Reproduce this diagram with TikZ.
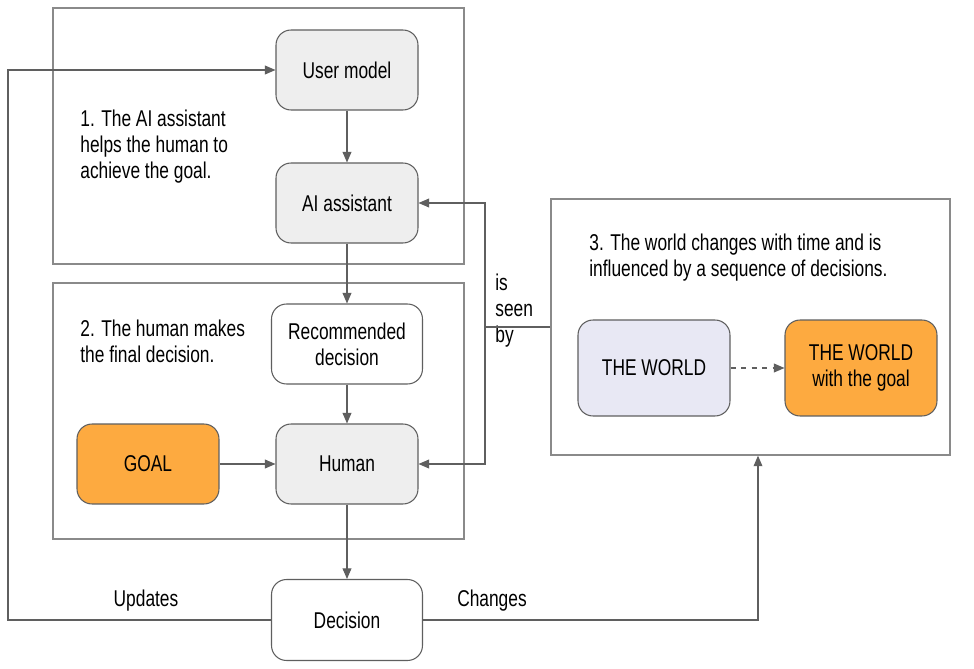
\documentclass[tikz,border=0pt]{standalone}
\usepackage{fontspec}
\setmainfont[FakeStretch=0.76]{Liberation Sans}
\usetikzlibrary{arrows.meta,shadows,calc}

\definecolor{linegray}{HTML}{5F5F5F}
\definecolor{framegray}{HTML}{8A8A8A}
\definecolor{boxgray}{HTML}{EEEEEE}
\definecolor{worldblue}{HTML}{E8E8F4}
\definecolor{goalorange}{HTML}{FDAA40}

\tikzset{
  frame/.style={draw=framegray, line width=0.8pt, fill=white,
    drop shadow={opacity=0.18, shadow xshift=0.6pt, shadow yshift=-0.6pt}},
  block/.style={draw=linegray, rounded corners=0.3cm, align=center,
    minimum width=2.84cm, minimum height=1.6cm, line width=0.6pt},
  link/.style={draw=linegray, line width=0.6pt,
    -{Triangle[length=6pt,width=5pt]}},
  note/.style={align=left, inner sep=0pt}
}

\begin{document}
\begin{tikzpicture}[x=0.02cm, y=-0.02cm, font=\fontsize{13}{14.8}\selectfont]
\useasboundingbox (0,0) rectangle (974,669);

\node (frameA) [frame, minimum width=8.22cm, minimum height=5.12cm] at (258.5,136) {};
\node (frameB) [frame, minimum width=8.22cm, minimum height=5.12cm] at (258.5,411) {};
\node (frameC) [frame, minimum width=7.98cm, minimum height=5.12cm] at (750.5,327) {};

\node (user) [block, fill=boxgray] at (347,70) {User model};
\node (ai) [block, fill=boxgray] at (347,203) {AI assistant};
\node (rec) [block, fill=white, minimum width=3.02cm] at (347,344) {Recommended\\decision};
\node (human) [block, fill=boxgray] at (347,464) {Human};
\node (goal) [block, fill=goalorange] at (148,464) {GOAL};
\node (decision) [block, fill=white, minimum width=3.02cm, minimum height=1.62cm] at (347,620) {Decision};
\node (world) [block, fill=worldblue, minimum width=3.04cm, minimum height=1.92cm] at (654,368) {THE WORLD};
\node (worldgoal) [block, fill=goalorange, minimum width=3.04cm, minimum height=1.92cm] at (861,368) {THE WORLD\\with the goal};

\node (noteA) [note, anchor=west] at (80,147) {1. The AI assistant\\helps the human to\\achieve the goal.};
\node (noteB) [note, anchor=west] at (80,341) {2. The human makes\\the final decision.};
\node (noteC) [note, anchor=west] at (589,258) {3. The world changes with time and is\\influenced by a sequence of decisions.};
\node (seen) [note, anchor=west] at (495,311) {is\\seen\\by};
\node (updates) at (146,601) {Updates};
\node (changes) at (492,601) {Changes};

\coordinate (loop) at (8,620);
\coordinate (split) at (485,327);

\draw[link] (user) -- (ai);
\draw[link] (ai) -- (rec);
\draw[link] (rec) -- (human);
\draw[link] (goal) -- (human);
\draw[link] (human) -- (decision);
\draw[link] (decision.west) -- (loop) |- (user.west);
\draw[link] (decision.east) -| ([xshift=0.15cm]frameC.south);
\draw[draw=linegray, line width=0.6pt] (frameC.west) -- (split);
\draw[link] (split) |- (ai.east);
\draw[link] (split) |- (human.east);
\draw[link, dashed] (world) -- (worldgoal);
\end{tikzpicture}
\end{document}
